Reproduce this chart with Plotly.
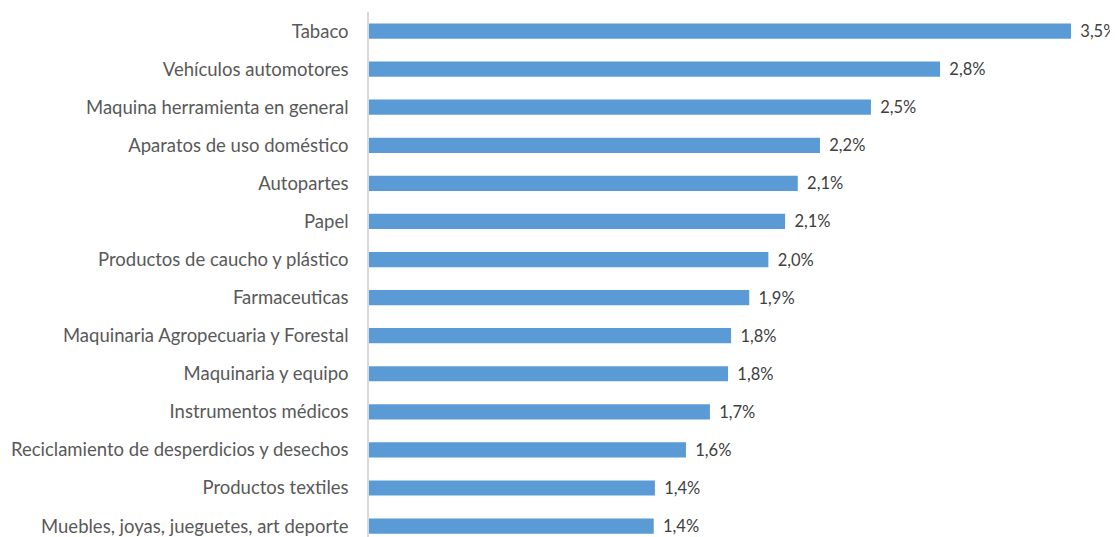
import plotly.graph_objects as go

categories = [
    "Tabaco",
    "Vehículos automotores",
    "Maquina herramienta en general",
    "Aparatos de uso doméstico",
    "Autopartes",
    "Papel",
    "Productos de caucho y plástico",
    "Farmaceuticas",
    "Maquinaria Agropecuaria y Forestal",
    "Maquinaria y equipo",
    "Instrumentos médicos",
    "Reciclamiento de desperdicios y desechos",
    "Productos textiles",
    "Muebles, joyas, jueguetes, art deporte",
]
values = [0.03484, 0.02834, 0.02491, 0.02238, 0.02128, 0.02065, 0.01982,
          0.01887, 0.01797, 0.01782, 0.01692, 0.01573, 0.01419, 0.01413]

fig = go.Figure(
    go.Bar(
        x=values,
        y=categories,
        orientation="h",
        marker=dict(color="#5B9BD5", line=dict(width=0)),
        width=0.4,
        texttemplate="\u00a0\u2009%{x:.1%}",
        textposition="outside",
        constraintext="none",
        cliponaxis=False,
        textfont=dict(family="Lato", size=16.5, color="#404040"),
        hoverinfo="skip",
    )
)

fig.update_layout(
    width=1110,
    height=529,
    margin=dict(l=361, r=10, t=4, b=0),
    paper_bgcolor="white",
    plot_bgcolor="white",
    separators=",.",
    showlegend=False,
    font=dict(family="Lato", size=18, color="#595959"),
    xaxis=dict(
        range=[0, 0.036675],
        visible=False,
        showgrid=False,
        zeroline=False,
    ),
    yaxis=dict(
        categoryorder="array",
        categoryarray=categories,
        range=[13.287, -0.5],
        showline=True,
        linecolor="#d9d9d9",
        linewidth=1.5,
        showgrid=False,
        zeroline=False,
        ticks="",
        ticklabelstandoff=15,
        tickfont=dict(family="Lato", size=18.5, color="#595959"),
    ),
)

fig.write_html("out.html")
